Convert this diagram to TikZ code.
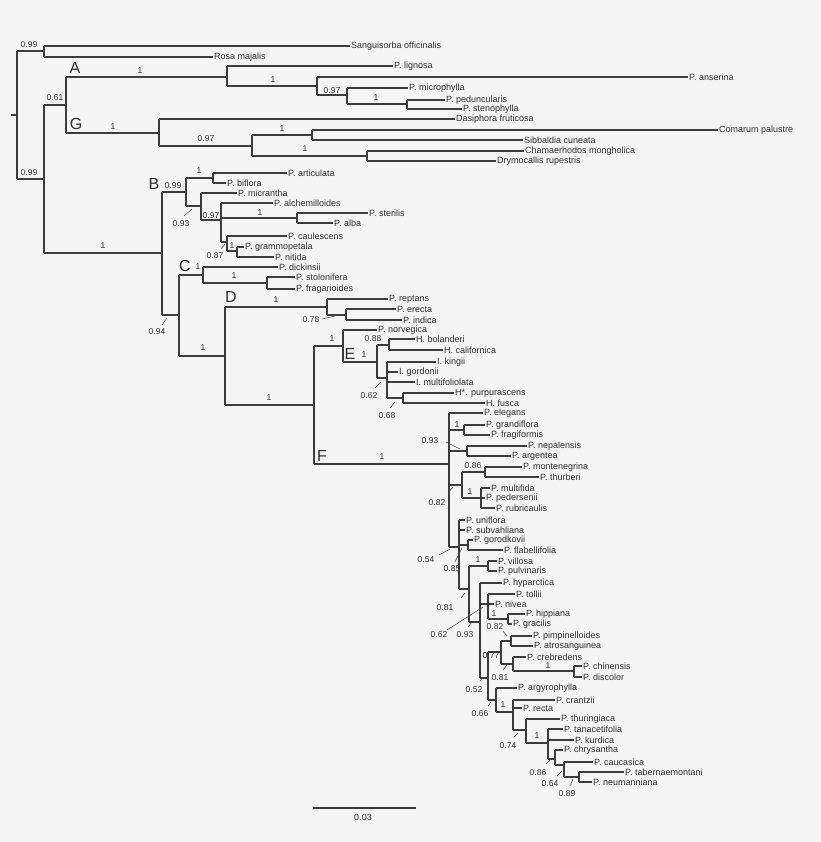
\documentclass[tikz,border=0pt]{standalone}
\usepackage{fontspec}
\setmainfont{Liberation Sans}
\begin{document}
\begin{tikzpicture}[x=1pt,y=-1pt,
  br/.style={draw=lc,line width=1.1pt},
  ld/.style={draw=lc,line width=0.5pt},
  lab/.style={anchor=west,inner sep=1pt,font=\fontsize{9}{10}\selectfont,text=tc},
  bs/.style={inner sep=0pt,font=\fontsize{8.5}{9}\selectfont,text=tc},
  big/.style={inner sep=0pt,font=\fontsize{16}{17}\selectfont,text=tc}]
\definecolor{lc}{HTML}{3C3C3C}\definecolor{tc}{HTML}{303030}\definecolor{bg}{HTML}{F5F5F5}
\fill[bg] (0,0) rectangle (820,842);
\useasboundingbox (0,0) rectangle (820,842);
\newcommand\hb[3]{\draw[br] (#1,#2)--(#3,#2);}
\newcommand\vb[3]{\draw[br] (#1,#2)--(#1,#3);}
\newcommand\leaf[5]{\node[lab] (#1) at (#4,#3) {#5};\draw[br] (#2,#3)--(#1.west);}
\newcommand\bv[3]{\node[bs] at (#1,#2) {#3};}
\newcommand\ldr[4]{\draw[ld] (#1,#2)--(#3,#4);}
% root and outgroups
\draw[br] (11,115)--(17,115); \vb{17}{51}{179}
\hb{17}{51}{44}\vb{44}{46}{57}
\leaf{sang}{44}{46}{350}{Sanguisorba officinalis}
\leaf{rosa}{44}{57}{213}{Rosa majalis}
\hb{17}{179}{44}\vb{44}{105}{253}
\hb{44}{105}{66}\vb{66}{77}{133}
% A
\hb{66}{77}{227}\vb{227}{66}{86}
\leaf{lign}{227}{66}{393}{P. lignosa}
\hb{227}{86}{317}\vb{317}{77}{95}
\leaf{anse}{317}{77}{688}{P. anserina}
\hb{317}{95}{347}\vb{347}{88}{104}
\leaf{micr}{347}{88}{408}{P. microphylla}
\hb{347}{104}{407}\vb{407}{100}{109}
\leaf{pedu}{407}{100}{445}{P. peduncularis}
\leaf{sten}{407}{109}{462}{P. stenophylla}
% G
\hb{66}{133}{159}\vb{159}{119}{146}
\leaf{dasi}{159}{119}{455}{Dasiphora fruticosa}
\hb{159}{146}{252}\vb{252}{135}{156}
\hb{252}{135}{312}\vb{312}{130}{140}
\leaf{coma}{312}{130}{718}{Comarum palustre}
\leaf{sibb}{312}{140}{523}{Sibbaldia cuneata}
\hb{252}{156}{367}\vb{367}{151}{161}
\leaf{cham}{367}{151}{524}{Chamaerhodos mongholica}
\leaf{drym}{367}{161}{496}{Drymocallis rupestris}
% B
\hb{44}{253}{162}\vb{162}{192}{315}
\hb{162}{192}{186}\vb{186}{178}{206}
\hb{186}{178}{213}\vb{213}{173}{183}
\leaf{arti}{213}{173}{287}{P. articulata}
\leaf{bifl}{213}{183}{226}{P. biflora}
\hb{186}{206}{201}\vb{201}{193}{220}
\leaf{mcra}{201}{193}{237}{P. micrantha}
\hb{201}{220}{221}\vb{221}{203}{242}
\leaf{alch}{221}{203}{273}{P. alchemilloides}
\hb{221}{218}{297}\vb{297}{213}{223}
\leaf{ster}{297}{213}{368}{P. sterilis}
\leaf{alba}{297}{223}{333}{P. alba}
\hb{221}{242}{227}\vb{227}{236}{251}
\leaf{caul}{227}{236}{287}{P. caulescens}
\hb{227}{251}{237}\vb{237}{247}{257}
\leaf{gram}{237}{247}{244}{P. grammopetala}
\leaf{niti}{237}{257}{274}{P. nitida}
% C
\hb{162}{315}{179}\vb{179}{275}{356}
\hb{179}{275}{203}\vb{203}{267}{283}
\leaf{dick}{203}{267}{278}{P. dickinsii}
\hb{203}{283}{267}\vb{267}{277}{289}
\leaf{stol}{267}{277}{295}{P. stolonifera}
\leaf{frag}{267}{289}{295}{P. fragarioides}
% D
\hb{179}{356}{225}\vb{225}{307}{405}
\hb{225}{307}{327}\vb{327}{299}{315}
\leaf{rept}{327}{299}{388}{P. reptans}
\hb{327}{315}{346}\vb{346}{309}{320}
\leaf{erec}{346}{309}{396}{P. erecta}
\leaf{indi}{346}{320}{402}{P. indica}
% E
\hb{225}{405}{314}\vb{314}{346}{464}
\hb{314}{346}{343}\vb{343}{330}{362}
\leaf{norv}{343}{330}{377}{P. norvegica}
\hb{343}{362}{377}\vb{377}{345}{378}
\hb{377}{345}{389}\vb{389}{339}{350}
\leaf{bola}{389}{339}{415}{H. bolanderi}
\leaf{cali}{389}{350}{443}{H. californica}
\hb{377}{378}{387}\vb{387}{362}{398}
\leaf{king}{387}{362}{436}{I. kingii}
\leaf{gord}{387}{372}{398}{I. gordonii}
\leaf{mult}{387}{382}{415}{I. multifoliolata}
\hb{387}{398}{403}\vb{403}{393}{403}
\leaf{purp}{403}{393}{454}{H*. purpurascens}
\leaf{fusc}{403}{403}{485}{H. fusca}
% F
\hb{314}{464}{449}\vb{449}{413}{547}
\leaf{eleg}{449}{413}{483}{P. elegans}
\hb{449}{430}{464}\vb{464}{425}{435}
\leaf{gran}{464}{425}{485}{P. grandiflora}
\leaf{frgf}{464}{435}{490}{P. fragiformis}
\hb{449}{451}{467}\vb{467}{446}{456}
\leaf{nepa}{467}{446}{527}{P. nepalensis}
\leaf{arge}{467}{456}{511}{P. argentea}
\hb{449}{485}{462}\vb{462}{472}{498}
\hb{462}{472}{485}\vb{485}{467}{477}
\leaf{mont}{485}{467}{522}{P. montenegrina}
\leaf{thur}{485}{477}{539}{P. thurberi}
\hb{462}{498}{481}\vb{481}{488}{508}
\leaf{mlfd}{481}{488}{490}{P. multifida}
\leaf{pede}{481}{498}{485}{P. pedersenii}
\leaf{rubr}{481}{508}{495}{P. rubricaulis}
\hb{449}{547}{459}\vb{459}{520}{589}
\leaf{unif}{459}{520}{465}{P. uniflora}
\leaf{subv}{459}{530}{465}{P. subvahliana}
\hb{459}{545}{468}\vb{468}{540}{550}
\leaf{goro}{468}{540}{473}{P. gorodkovii}
\leaf{flab}{468}{550}{503}{P. flabellifolia}
\hb{459}{589}{469}\vb{469}{566}{622}
\hb{469}{566}{488}\vb{488}{561}{571}
\leaf{vill}{488}{561}{497}{P. villosa}
\leaf{pulv}{488}{571}{497}{P. pulvinaris}
\hb{469}{622}{480}\vb{480}{583}{678}
\leaf{hypa}{480}{583}{502}{P. hyparctica}
\hb{480}{604}{488}\vb{488}{594}{619}
\leaf{toll}{488}{594}{515}{P. tollii}
\leaf{nive}{488}{604}{494}{P. nivea}
\hb{488}{619}{508}\vb{508}{614}{624}
\leaf{hipp}{508}{614}{525}{P. hippiana}
\leaf{grac}{508}{624}{512}{P. gracilis}
\hb{480}{678}{488}\vb{488}{652}{700}
\hb{488}{652}{501}\vb{501}{641}{664}
\hb{501}{641}{511}\vb{511}{636}{646}
\leaf{pimp}{511}{636}{532}{P. pimpinelloides}
\leaf{atro}{511}{646}{533}{P. atrosanguinea}
\hb{501}{664}{513}\vb{513}{657}{671}
\leaf{creb}{513}{657}{526}{P. crebredens}
\hb{513}{671}{574}\vb{574}{666}{677}
\leaf{chin}{574}{666}{582}{P. chinensis}
\leaf{disc}{574}{677}{582}{P. discolor}
\hb{488}{700}{496}\vb{496}{688}{712}
\leaf{argy}{496}{688}{517}{P. argyrophylla}
\hb{496}{712}{513}\vb{513}{700}{730}
\leaf{cran}{513}{700}{555}{P. crantzii}
\leaf{rect}{513}{708}{522}{P. recta}
\hb{513}{730}{526}\vb{526}{719}{743}
\leaf{thri}{526}{719}{560}{P. thuringiaca}
\hb{526}{743}{548}\vb{548}{729}{759}
\leaf{tana}{548}{729}{563}{P. tanacetifolia}
\leaf{kurd}{548}{740}{574}{P. kurdica}
\hb{548}{759}{555}\vb{555}{750}{765}
\leaf{chry}{555}{750}{563}{P. chrysantha}
\hb{555}{765}{564}\vb{564}{762}{777}
\leaf{cauc}{564}{762}{593}{P. caucasica}
\hb{564}{777}{579}\vb{579}{772}{782}
\leaf{tabe}{579}{772}{624}{P. tabernaemontani}
\leaf{neum}{579}{782}{592}{P. neumanniana}
% clade letters
\node[big] at (75,68) {A}; \node[big] at (76,124) {G};
\node[big] at (154,184) {B}; \node[big] at (185,266) {C};
\node[big] at (231,297) {D}; \node[big] at (350,354) {E};
\node[big] at (322,456) {F};
% support values
\bv{29}{45}{0.99}\bv{29}{173}{0.99}\bv{55}{98}{0.61}
\bv{140}{71}{1}\bv{273}{80}{1}\bv{332}{91}{0.97}\bv{376}{98}{1}
\bv{113}{127}{1}\bv{206}{139}{0.97}\bv{282}{129}{1}\bv{305}{149}{1}
\bv{103}{246}{1}
\bv{173}{186}{0.99}\bv{199}{171}{1}\bv{181}{224}{0.93}\ldr{184}{216}{192}{209}
\bv{211}{216}{0.97}\bv{260}{213}{1}\bv{215}{256}{0.87}\ldr{221}{249}{225}{244}
\bv{232}{246}{1}
\bv{198}{267}{1}\bv{234}{276}{1}
\bv{276}{300}{1}\bv{311}{320}{0.78}\ldr{322}{319}{335}{316}
\bv{203}{348}{1}\bv{157}{332}{0.94}\ldr{162}{325}{167}{318}
\bv{269}{398}{1}\bv{332}{339}{1}\bv{364}{355}{1}\bv{373}{339}{0.88}
\bv{369}{396}{0.62}\ldr{375}{388}{381}{382}
\bv{387}{416}{0.68}\ldr{390}{408}{395}{402}
\bv{382}{457}{1}\bv{457}{425}{1}\bv{430}{441}{0.93}\ldr{446}{442}{460}{449}
\bv{473}{466}{0.86}\bv{437}{503}{0.82}\ldr{448}{493}{453}{487}\bv{470}{492}{1}
\bv{426}{560}{0.54}\ldr{439}{555}{450}{549}
\bv{452}{569}{0.85}\ldr{455}{562}{462}{548}
\bv{478}{560}{1}
\bv{445}{608}{0.81}\ldr{461}{598}{465}{593}
\bv{439}{635}{0.62}\ldr{447}{630}{483}{607}
\bv{465}{635}{0.93}\ldr{468}{627}{472}{622}
\bv{494}{614}{1}
\bv{495}{627}{0.82}\ldr{503}{631}{507}{636}
\bv{491}{656}{0.77}\bv{500}{678}{0.81}\ldr{503}{670}{507}{665}
\bv{548}{666}{1}
\bv{474}{690}{0.52}\ldr{480}{681}{483}{677}
\bv{480}{714}{0.66}\ldr{488}{706}{491}{702}
\bv{503}{705}{1}
\bv{508}{746}{0.74}\ldr{514}{737}{518}{733}
\bv{537}{736}{1}
\bv{538}{773}{0.86}\ldr{546}{764}{550}{760}
\bv{550}{784}{0.64}\ldr{557}{776}{562}{771}
\bv{567}{794}{0.89}\ldr{570}{786}{573}{779}
% scale bar
\coordinate (sb1) at (313,808); \coordinate (sb2) at (416,808);
\draw[br] (sb1)--(sb2);
\node[bs,font=\fontsize{9}{10}\selectfont] (sbl) at (363,817) {0.03};
\end{tikzpicture}
\end{document}
